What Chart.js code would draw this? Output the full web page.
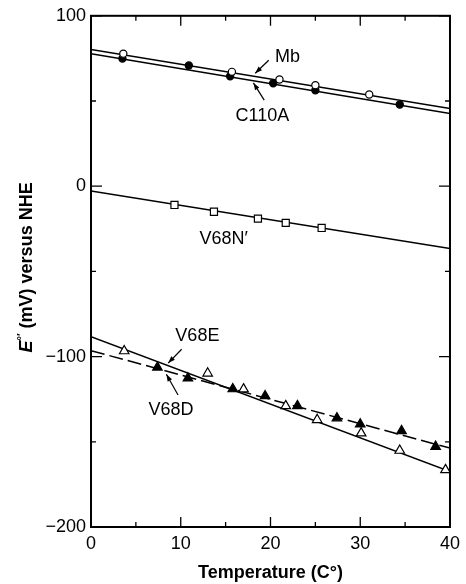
<!DOCTYPE html>
<html>
<head>
<meta charset="utf-8">
<script src="https://cdn.jsdelivr.net/npm/chart.js@4/dist/chart.umd.min.js"></script>
<style>
  body { margin: 0; background: #fff; }
  #wrap { width: 466px; height: 584px; }
</style>
</head>
<body>
<div id="wrap"><canvas id="chart" width="466" height="584"></canvas></div>
<script>
// Temperature (°C) and E°' (mV)
const mbT = [3.6, 15.7, 21.0, 25.0, 31.0];
const mbE = [77.8, 67.1, 62.6, 59.3, 53.8];
const c110aT = [3.5, 10.9, 15.5, 20.3, 25.0, 34.4];
const c110aE = [74.9, 70.8, 64.5, 60.4, 56.3, 47.9];
const v68nT = [9.3, 13.7, 18.6, 21.7, 25.7];
const v68nE = [-11, -15, -19, -21.5, -24.5];
const v68eT = [3.7, 13.0, 17.0, 21.7, 25.2, 30.1, 34.4, 39.5];
const v68eE = [-96.7, -109.8, -119.1, -128.9, -137.1, -144.9, -155.1, -166.5];
const v68dT = [7.4, 10.8, 15.8, 19.4, 23.0, 27.4, 30.0, 34.6, 38.4];
const v68dE = [-106.3, -112.7, -119.0, -123.1, -128.9, -136.1, -139.7, -143.6, -152.8];

// fitted lines, values at both ends of the axis
const fitT = [0, 40];
const mbFit = [80.2, 45.6];
const c110aFit = [77.8, 42.7];
const v68nFit = [-2.8, -36.5];
const v68eFit = [-88.3, -167.5];
const v68dFit = [-96.5, -153.7];

const xTicks = [0, 10, 20, 30, 40];
const xMinor = [5, 15, 25, 35];
const yTicks = [-200, -100, 0, 100];
const yMinor = [-150, -50, 50];

const FONT = "'Liberation Sans', Arial, Helvetica, sans-serif";

const pts = (xs, ys) => xs.map((x, i) => ({ x, y: ys[i] }));

function punkte(label, xs, ys, style, filled, radius) {
  return {
    label,
    data: pts(xs, ys),
    showLine: false,
    pointStyle: style,
    pointRadius: radius,
    backgroundColor: filled ? '#000' : '#fff',
    borderColor: '#000',
    borderWidth: 1.2,
    order: 1
  };
}

function linie(label, ys, dash) {
  return {
    label,
    data: pts(fitT, ys),
    showLine: true,
    pointRadius: 0,
    borderColor: '#000',
    borderWidth: 1.5,
    borderDash: dash || [],
    order: 2
  };
}

// labels with their arrows, in data units
const notes = [
  { text: 'Mb', t: 20.5, e: 76, from: [19.8, 73.9], to: [18.3, 66.3] },
  { text: 'C110A', t: 16.1, e: 41.4, from: [19.3, 50.5], to: [18.1, 60.6] },
  { text: 'V68N\u2032', t: 12.1, e: -31 },
  { text: 'V68E', t: 9.4, e: -88.2, from: [10.1, -95.7], to: [8.6, -103.8] },
  { text: 'V68D', t: 6.4, e: -131.3, from: [9.7, -122.5], to: [8.4, -110.4] }
];

const rahmen = {
  id: 'rahmen',
  afterDraw(chart) {
    const { ctx, chartArea: a, scales: { x, y } } = chart;
    ctx.save();
    ctx.strokeStyle = '#000';
    ctx.lineWidth = 2;
    ctx.strokeRect(a.left, a.top, a.right - a.left, a.bottom - a.top);

    ctx.lineWidth = 1.3;
    ctx.beginPath();
    const xt = (v, len) => {
      const px = x.getPixelForValue(v);
      ctx.moveTo(px, a.bottom); ctx.lineTo(px, a.bottom - len);
      ctx.moveTo(px, a.top); ctx.lineTo(px, a.top + len);
    };
    const yt = (v, len) => {
      const py = y.getPixelForValue(v);
      ctx.moveTo(a.left, py); ctx.lineTo(a.left + len, py);
      ctx.moveTo(a.right, py); ctx.lineTo(a.right - len, py);
    };
    xTicks.forEach(v => xt(v, 10));
    xMinor.forEach(v => xt(v, 5));
    yTicks.forEach(v => yt(v, 11));
    yMinor.forEach(v => yt(v, 5));
    ctx.stroke();

    // annotations
    ctx.fillStyle = '#000';
    ctx.font = '18px ' + FONT;
    ctx.textBaseline = 'middle';
    ctx.textAlign = 'left';
    ctx.lineWidth = 1.2;
    notes.forEach(n => {
      ctx.fillText(n.text, x.getPixelForValue(n.t), y.getPixelForValue(n.e));
      if (!n.from) return;
      const x1 = x.getPixelForValue(n.from[0]), y1 = y.getPixelForValue(n.from[1]);
      const x2 = x.getPixelForValue(n.to[0]), y2 = y.getPixelForValue(n.to[1]);
      ctx.beginPath();
      ctx.moveTo(x1, y1); ctx.lineTo(x2, y2);
      ctx.stroke();
      const ang = Math.atan2(y2 - y1, x2 - x1);
      ctx.beginPath();
      ctx.moveTo(x2, y2);
      ctx.lineTo(x2 - 7 * Math.cos(ang) + 2.5 * Math.sin(ang), y2 - 7 * Math.sin(ang) - 2.5 * Math.cos(ang));
      ctx.lineTo(x2 - 7 * Math.cos(ang) - 2.5 * Math.sin(ang), y2 - 7 * Math.sin(ang) + 2.5 * Math.cos(ang));
      ctx.closePath();
      ctx.fill();
    });

    // y axis title with italic E and superscript
    const teile = [
      { s: 'E', f: 'italic bold 18px ' + FONT, dy: 0 },
      { s: '\u00b0\u2032', f: 'bold 11px ' + FONT, dy: -7 },
      { s: ' (mV) versus NHE', f: 'bold 18px ' + FONT, dy: 0 }
    ];
    let breite = 0;
    teile.forEach(p => { ctx.font = p.f; p.w = ctx.measureText(p.s).width; breite += p.w; });
    ctx.translate(25, (a.top + a.bottom) / 2 - 4);
    ctx.rotate(-Math.PI / 2);
    ctx.textBaseline = 'alphabetic';
    let pos = -breite / 2;
    teile.forEach(p => {
      ctx.font = p.f;
      ctx.fillText(p.s, pos, 6.5 + p.dy);
      pos += p.w;
    });
    ctx.restore();
  }
};

new Chart(document.getElementById('chart'), {
  type: 'scatter',
  data: {
    datasets: [
      punkte('Mb', mbT, mbE, 'circle', false, 3.6),
      punkte('C110A', c110aT, c110aE, 'circle', true, 3.6),
      punkte('V68N\u2032', v68nT, v68nE, 'rect', false, 5),
      punkte('V68E', v68eT, v68eE, 'triangle', false, 5.5),
      punkte('V68D', v68dT, v68dE, 'triangle', true, 5.5),
      linie('Mb fit', mbFit),
      linie('C110A fit', c110aFit),
      linie('V68N\u2032 fit', v68nFit),
      linie('V68E fit', v68eFit),
      linie('V68D fit', v68dFit, [14, 5])
    ]
  },
  options: {
    responsive: false,
    animation: false,
    layout: { padding: { top: 15, right: 11, left: 0, bottom: 0 } },
    plugins: { legend: { display: false }, tooltip: { enabled: false } },
    scales: {
      x: {
        type: 'linear',
        min: 0,
        max: 40,
        afterBuildTicks: s => { s.ticks = xTicks.map(v => ({ value: v })); },
        afterFit: s => { s.height = 57; },
        grid: { display: false, drawTicks: false },
        border: { display: false },
        ticks: { color: '#000', padding: 6, font: { family: FONT, size: 18 } },
        title: {
          display: true,
          text: 'Temperature (C\u00b0)',
          color: '#000',
          padding: { top: 0, bottom: 0 },
          font: { family: FONT, size: 18, weight: 'bold' }
        }
      },
      y: {
        type: 'linear',
        min: -200,
        max: 100,
        afterBuildTicks: s => { s.ticks = yTicks.map(v => ({ value: v })); },
        afterFit: s => { s.width = 91; },
        grid: { display: false, drawTicks: false },
        border: { display: false },
        ticks: {
          color: '#000',
          padding: 5,
          font: { family: FONT, size: 18 },
          callback: v => String(v).replace('-', '\u2212')
        }
      }
    }
  },
  plugins: [rahmen]
});
</script>
</body>
</html>
